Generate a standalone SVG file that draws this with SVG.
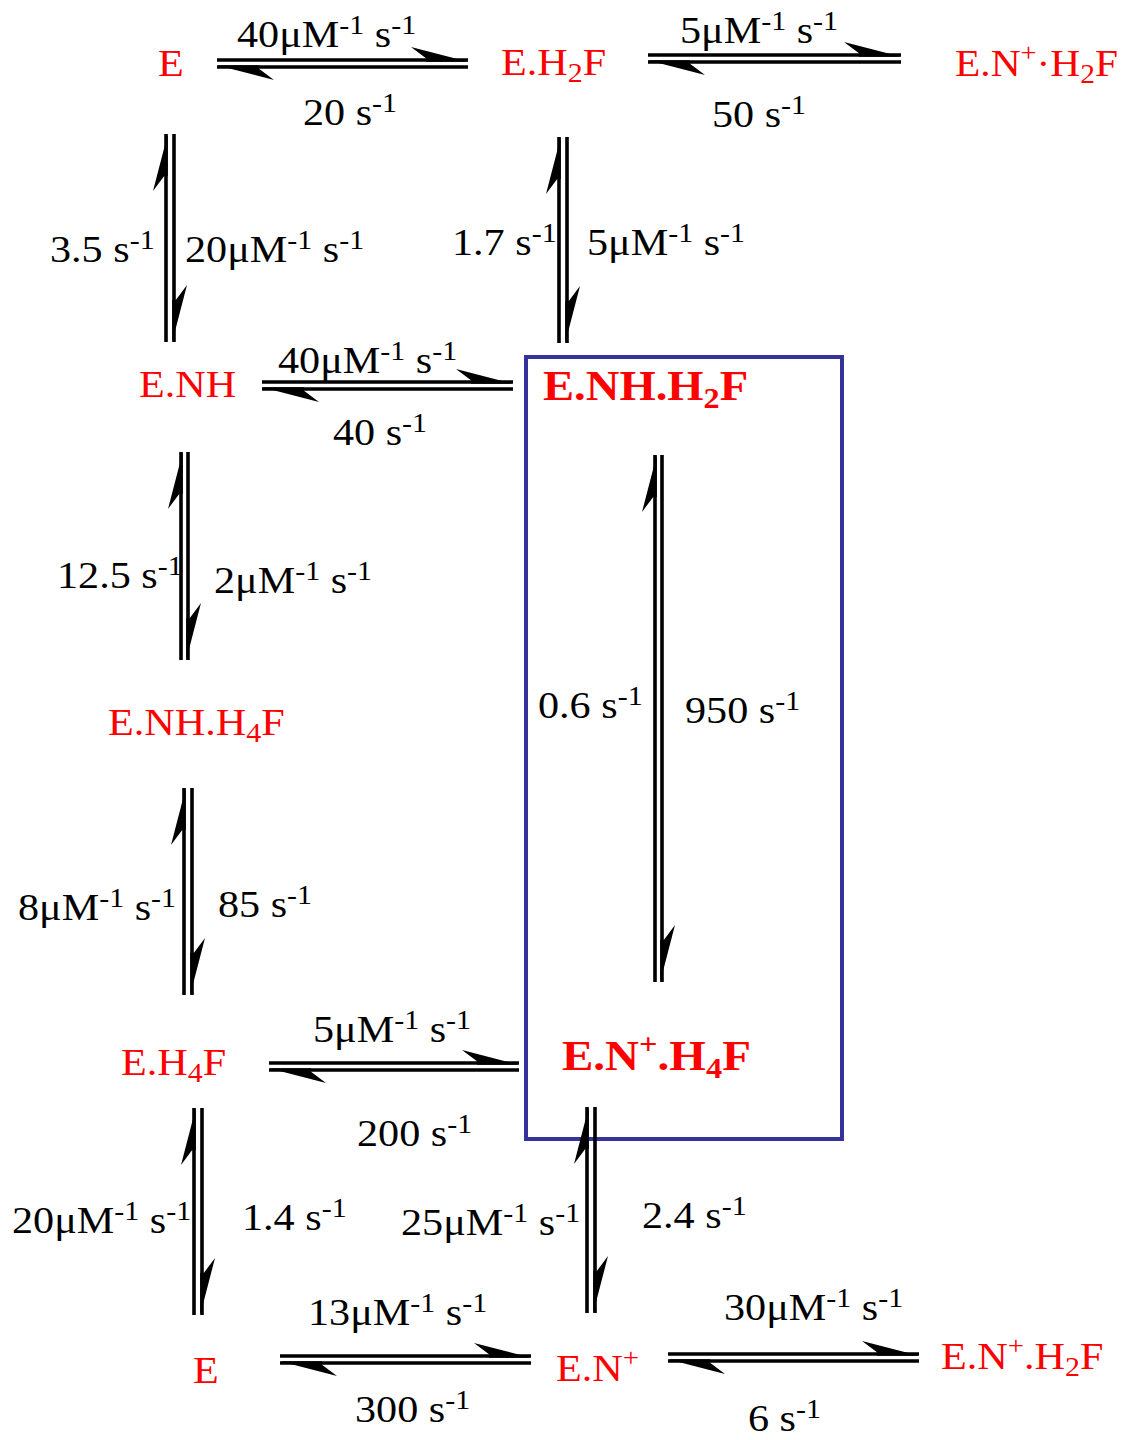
<svg xmlns="http://www.w3.org/2000/svg" xmlns:xlink="http://www.w3.org/1999/xlink" width="1128" height="1440" viewBox="0 0 1128 1440">
<style>
text{font-family:"Liberation Serif","Times New Roman",serif}
.n{font-size:38px;fill:#ff0000}
.nb{font-size:42px;font-weight:bold;fill:#ff0000}
.l{font-size:38px;fill:#000}
.s{font-size:27px}
.sb{font-size:27px}
.sp{font-size:26px}
.bsb{font-size:29px}
.ln{stroke:#000;stroke-width:3.6;fill:none}
.box{fill:none;stroke:#333399;stroke-width:4}
</style>
<defs>
<path id="hd" d="M0,1.8 L-57,-13 L-42,-1.8 L-42,1.8 Z" fill="#000"/>
</defs>
<rect class="box" x="526" y="357" width="316" height="782"/>
<g id="nodes">
<g id="n-E-top"><text class="n" transform="translate(158,76) scale(1.11,1)">E</text></g>
<g id="n-EH2F"><text class="n" transform="translate(501,75) scale(1.11,1)">E.H<tspan class="sb" dy="7">2</tspan><tspan dy="-7">F</tspan></text></g>
<g id="n-ENpH2F-top"><text class="n" transform="translate(955,76) scale(1.09,1)">E.N<tspan class="sp" dy="-15">+</tspan><tspan dy="15">·H</tspan><tspan class="sb" dy="7">2</tspan><tspan dy="-7">F</tspan></text></g>
<g id="n-ENH"><text class="n" transform="translate(139,397) scale(1.11,1)">E.NH</text></g>
<g id="n-ENHH2F"><text class="nb" transform="translate(543,400) scale(1.11,1)">E.NH.H<tspan class="bsb" dy="8">2</tspan><tspan dy="-8">F</tspan></text></g>
<g id="n-ENHH4F"><text class="n" transform="translate(108,735) scale(1.11,1)">E.NH.H<tspan class="sb" dy="7">4</tspan><tspan dy="-7">F</tspan></text></g>
<g id="n-EH4F"><text class="n" transform="translate(121,1075) scale(1.11,1)">E.H<tspan class="sb" dy="7">4</tspan><tspan dy="-7">F</tspan></text></g>
<g id="n-ENpH4F"><text class="nb" transform="translate(562,1070) scale(1.12,1)">E.N<tspan class="bsb" dy="-16">+</tspan><tspan dy="16">.H</tspan><tspan class="bsb" dy="8">4</tspan><tspan dy="-8">F</tspan></text></g>
<g id="n-E-bottom"><text class="n" transform="translate(193,1383) scale(1.11,1)">E</text></g>
<g id="n-ENp"><text class="n" transform="translate(556,1381) scale(1.11,1)">E.N<tspan class="sp" dy="-15">+</tspan></text></g>
<g id="n-ENpH2F"><text class="n" transform="translate(941,1369) scale(1.11,1)">E.N<tspan class="sp" dy="-15">+</tspan><tspan dy="15">.H</tspan><tspan class="sb" dy="7">2</tspan><tspan dy="-7">F</tspan></text></g>
</g>
<g id="connectors">
<g id="c1">
<path class="ln" d="M217,60H468M217,67H468"/>
<use xlink:href="#hd" transform="translate(468,60)"/>
<use xlink:href="#hd" transform="translate(217,67) rotate(180)"/>
<text class="l" transform="translate(237,47) scale(1.11,1)">40μM<tspan class="s" dy="-13">-1</tspan><tspan dy="13"> s</tspan><tspan class="s" dy="-13">-1</tspan></text>
<text class="l" transform="translate(303,125) scale(1.11,1)">20 s<tspan class="s" dy="-13">-1</tspan></text>
</g>
<g id="c2">
<path class="ln" d="M648,55H901M648,62H901"/>
<use xlink:href="#hd" transform="translate(901,55)"/>
<use xlink:href="#hd" transform="translate(648,62) rotate(180)"/>
<text class="l" transform="translate(680,43) scale(1.11,1)">5μM<tspan class="s" dy="-13">-1</tspan><tspan dy="13"> s</tspan><tspan class="s" dy="-13">-1</tspan></text>
<text class="l" transform="translate(712,127) scale(1.11,1)">50 s<tspan class="s" dy="-13">-1</tspan></text>
</g>
<g id="c3">
<path class="ln" d="M166,134V342M174,134V342"/>
<use xlink:href="#hd" transform="translate(166,134) rotate(-90)"/>
<use xlink:href="#hd" transform="translate(174,342) rotate(90)"/>
<text class="l" transform="translate(50,262) scale(1.11,1)">3.5 s<tspan class="s" dy="-13">-1</tspan></text>
<text class="l" transform="translate(185,262) scale(1.11,1)">20μM<tspan class="s" dy="-13">-1</tspan><tspan dy="13"> s</tspan><tspan class="s" dy="-13">-1</tspan></text>
</g>
<g id="c4">
<path class="ln" d="M559,137V343M567,137V343"/>
<use xlink:href="#hd" transform="translate(559,137) rotate(-90)"/>
<use xlink:href="#hd" transform="translate(567,343) rotate(90)"/>
<text class="l" transform="translate(452,255) scale(1.11,1)">1.7 s<tspan class="s" dy="-13">-1</tspan></text>
<text class="l" transform="translate(587,255) scale(1.11,1)">5μM<tspan class="s" dy="-13">-1</tspan><tspan dy="13"> s</tspan><tspan class="s" dy="-13">-1</tspan></text>
</g>
<g id="c5">
<path class="ln" d="M262,382H513M262,389H513"/>
<use xlink:href="#hd" transform="translate(513,382)"/>
<use xlink:href="#hd" transform="translate(262,389) rotate(180)"/>
<text class="l" transform="translate(278,373) scale(1.11,1)">40μM<tspan class="s" dy="-13">-1</tspan><tspan dy="13"> s</tspan><tspan class="s" dy="-13">-1</tspan></text>
<text class="l" transform="translate(333,445) scale(1.11,1)">40 s<tspan class="s" dy="-13">-1</tspan></text>
</g>
<g id="c6">
<path class="ln" d="M181,452V660M188,452V660"/>
<use xlink:href="#hd" transform="translate(181,452) rotate(-90)"/>
<use xlink:href="#hd" transform="translate(188,660) rotate(90)"/>
<text class="l" transform="translate(57,588) scale(1.11,1)">12.5 s<tspan class="s" dy="-13">-1</tspan></text>
<text class="l" transform="translate(214,593) scale(1.11,1)">2μM<tspan class="s" dy="-13">-1</tspan><tspan dy="13"> s</tspan><tspan class="s" dy="-13">-1</tspan></text>
</g>
<g id="c7">
<path class="ln" d="M655,455V982M662,455V982"/>
<use xlink:href="#hd" transform="translate(655,455) rotate(-90)"/>
<use xlink:href="#hd" transform="translate(662,982) rotate(90)"/>
<text class="l" transform="translate(538,718) scale(1.11,1)">0.6 s<tspan class="s" dy="-13">-1</tspan></text>
<text class="l" transform="translate(685,723) scale(1.11,1)">950 s<tspan class="s" dy="-13">-1</tspan></text>
</g>
<g id="c8">
<path class="ln" d="M184,788V995M192,788V995"/>
<use xlink:href="#hd" transform="translate(184,788) rotate(-90)"/>
<use xlink:href="#hd" transform="translate(192,995) rotate(90)"/>
<text class="l" transform="translate(18,920) scale(1.11,1)">8μM<tspan class="s" dy="-13">-1</tspan><tspan dy="13"> s</tspan><tspan class="s" dy="-13">-1</tspan></text>
<text class="l" transform="translate(218,917) scale(1.11,1)">85 s<tspan class="s" dy="-13">-1</tspan></text>
</g>
<g id="c9">
<path class="ln" d="M269,1063H519M269,1070H519"/>
<use xlink:href="#hd" transform="translate(519,1063)"/>
<use xlink:href="#hd" transform="translate(269,1070) rotate(180)"/>
<text class="l" transform="translate(313,1042) scale(1.11,1)">5μM<tspan class="s" dy="-13">-1</tspan><tspan dy="13"> s</tspan><tspan class="s" dy="-13">-1</tspan></text>
<text class="l" transform="translate(357,1146) scale(1.11,1)">200 s<tspan class="s" dy="-13">-1</tspan></text>
</g>
<g id="c10">
<path class="ln" d="M194,1108V1315M202,1108V1315"/>
<use xlink:href="#hd" transform="translate(194,1108) rotate(-90)"/>
<use xlink:href="#hd" transform="translate(202,1315) rotate(90)"/>
<text class="l" transform="translate(12,1233) scale(1.11,1)">20μM<tspan class="s" dy="-13">-1</tspan><tspan dy="13"> s</tspan><tspan class="s" dy="-13">-1</tspan></text>
<text class="l" transform="translate(242,1230) scale(1.11,1)">1.4 s<tspan class="s" dy="-13">-1</tspan></text>
</g>
<g id="c11">
<path class="ln" d="M587,1107V1313M595,1107V1313"/>
<use xlink:href="#hd" transform="translate(587,1107) rotate(-90)"/>
<use xlink:href="#hd" transform="translate(595,1313) rotate(90)"/>
<text class="l" transform="translate(401,1235) scale(1.11,1)">25μM<tspan class="s" dy="-13">-1</tspan><tspan dy="13"> s</tspan><tspan class="s" dy="-13">-1</tspan></text>
<text class="l" transform="translate(642,1228) scale(1.11,1)">2.4 s<tspan class="s" dy="-13">-1</tspan></text>
</g>
<g id="c12">
<path class="ln" d="M280,1356H531M280,1363H531"/>
<use xlink:href="#hd" transform="translate(531,1356)"/>
<use xlink:href="#hd" transform="translate(280,1363) rotate(180)"/>
<text class="l" transform="translate(308,1325) scale(1.11,1)">13μM<tspan class="s" dy="-13">-1</tspan><tspan dy="13"> s</tspan><tspan class="s" dy="-13">-1</tspan></text>
<text class="l" transform="translate(355,1422) scale(1.11,1)">300 s<tspan class="s" dy="-13">-1</tspan></text>
</g>
<g id="c13">
<path class="ln" d="M668,1354H919M668,1361H919"/>
<use xlink:href="#hd" transform="translate(919,1354)"/>
<use xlink:href="#hd" transform="translate(668,1361) rotate(180)"/>
<text class="l" transform="translate(724,1320) scale(1.11,1)">30μM<tspan class="s" dy="-13">-1</tspan><tspan dy="13"> s</tspan><tspan class="s" dy="-13">-1</tspan></text>
<text class="l" transform="translate(748,1431) scale(1.11,1)">6 s<tspan class="s" dy="-13">-1</tspan></text>
</g>
</g>
</svg>
